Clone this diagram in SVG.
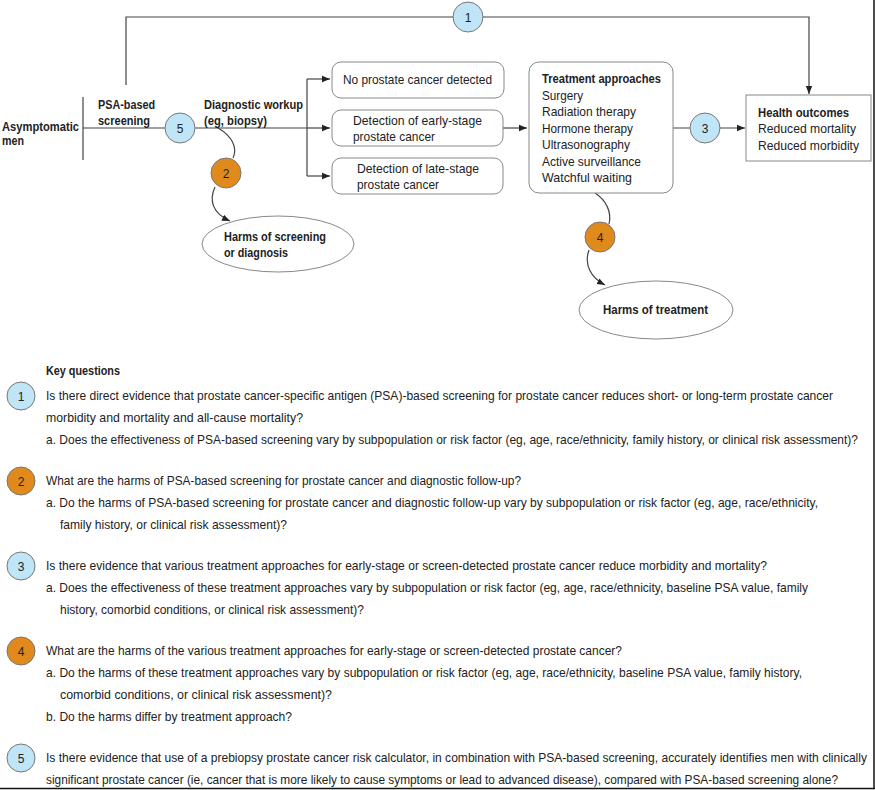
<svg xmlns="http://www.w3.org/2000/svg" width="875" height="790" viewBox="0 0 875 790">
<defs>
<marker id="ah" viewBox="0 0 10 10" refX="10" refY="5" markerWidth="8" markerHeight="8" markerUnits="userSpaceOnUse" orient="auto"><path d="M0,1 L10,5 L0,9 Z" fill="#222"/></marker>
<style>
text{font-family:"Liberation Sans",Arial,sans-serif;font-size:12.8px;fill:#222}
.b{font-weight:bold}
.ln{fill:none;stroke:#444;stroke-width:1.2}
.box{fill:#fff;stroke:#888;stroke-width:1}
.blue{fill:#bfe5f7;stroke:#777;stroke-width:1}
.org{fill:#e08a1e;stroke:#777;stroke-width:1}
.n{text-anchor:middle;font-size:12px}
</style>
</defs>
<rect x="0" y="0" width="875" height="790" fill="#fff"/>
<line x1="874" y1="0" x2="874" y2="789" stroke="#111" stroke-width="1.5"/>
<line x1="0" y1="788.5" x2="875" y2="788.5" stroke="#111" stroke-width="1.5"/>

<g id="connectors">
<path class="ln" d="M126,85 V17 H809 V94" marker-end="url(#ah)"/>
<line class="ln" x1="83" y1="97" x2="83" y2="160"/>
<path class="ln" d="M83,128 H307"/>
<path class="ln" d="M307,79 V176"/>
<path class="ln" d="M307,79 H330" marker-end="url(#ah)"/>
<path class="ln" d="M307,128 H330" marker-end="url(#ah)"/>
<path class="ln" d="M307,176 H330" marker-end="url(#ah)"/>
<path class="ln" d="M503,128 H527" marker-end="url(#ah)"/>
<path class="ln" d="M673,128 H745" marker-end="url(#ah)"/>
<path class="ln" d="M218,128 C232,136 238,148 233,158"/>
<path class="ln" d="M215,187 C209,200 212,213 230,221" marker-end="url(#ah)"/>
<path class="ln" d="M595,193 C606,200 612,212 609,224"/>
<path class="ln" d="M589,250 C584,264 590,277 605,285" marker-end="url(#ah)"/>
</g>

<g id="kq1-circle"><circle class="blue" cx="468" cy="17" r="15"/><text class="n" x="468" y="21.5">1</text></g>
<g id="kq5-circle"><circle class="blue" cx="180" cy="128" r="15"/><text class="n" x="180" y="132.5">5</text></g>
<g id="kq2-circle"><circle class="org" cx="226" cy="173" r="15"/><text class="n" x="226" y="177.5">2</text></g>
<g id="kq3-circle"><circle class="blue" cx="705" cy="128" r="15"/><text class="n" x="705" y="132.5">3</text></g>
<g id="kq4-circle"><circle class="org" cx="600" cy="237" r="15"/><text class="n" x="600" y="241.5">4</text></g>

<g id="asymptomatic">
<text class="b" x="2" y="131" textLength="77" lengthAdjust="spacingAndGlyphs">Asymptomatic</text>
<text class="b" x="2" y="145" textLength="22" lengthAdjust="spacingAndGlyphs">men</text>
</g>
<g id="psa-screening">
<text class="b" x="98" y="109" textLength="57" lengthAdjust="spacingAndGlyphs">PSA-based</text>
<text class="b" x="98" y="125" textLength="52" lengthAdjust="spacingAndGlyphs">screening</text>
</g>
<g id="diagnostic">
<text class="b" x="204" y="109" textLength="99" lengthAdjust="spacingAndGlyphs">Diagnostic workup</text>
<text class="b" x="204" y="125" textLength="63" lengthAdjust="spacingAndGlyphs">(eg, biopsy)</text>
</g>
<g id="no-cancer">
<rect class="box" x="332" y="62" width="172" height="36" rx="9"/>
<text x="343" y="84" textLength="149" lengthAdjust="spacingAndGlyphs">No prostate cancer detected</text>
</g>
<g id="early-stage">
<rect class="box" x="332" y="110" width="171" height="36" rx="9"/>
<text x="353" y="125" textLength="129" lengthAdjust="spacingAndGlyphs">Detection of early-stage</text>
<text x="353" y="141" textLength="82" lengthAdjust="spacingAndGlyphs">prostate cancer</text>
</g>
<g id="late-stage">
<rect class="box" x="332" y="158" width="171" height="36" rx="9"/>
<text x="357" y="173" textLength="122" lengthAdjust="spacingAndGlyphs">Detection of late-stage</text>
<text x="357" y="189" textLength="82" lengthAdjust="spacingAndGlyphs">prostate cancer</text>
</g>
<g id="treatment">
<rect class="box" x="529" y="62" width="144" height="131" rx="10"/>
<text class="b" x="542" y="83" textLength="119" lengthAdjust="spacingAndGlyphs">Treatment approaches</text>
<text x="542" y="100" textLength="41" lengthAdjust="spacingAndGlyphs">Surgery</text>
<text x="542" y="116" textLength="94" lengthAdjust="spacingAndGlyphs">Radiation therapy</text>
<text x="542" y="133" textLength="91" lengthAdjust="spacingAndGlyphs">Hormone therapy</text>
<text x="542" y="149" textLength="88" lengthAdjust="spacingAndGlyphs">Ultrasonography</text>
<text x="542" y="166" textLength="99" lengthAdjust="spacingAndGlyphs">Active surveillance</text>
<text x="542" y="182" textLength="90" lengthAdjust="spacingAndGlyphs">Watchful waiting</text>
</g>
<g id="health-outcomes">
<rect class="box" x="746" y="95" width="125" height="66"/>
<text class="b" x="758" y="117" textLength="91" lengthAdjust="spacingAndGlyphs">Health outcomes</text>
<text x="758" y="133" textLength="98" lengthAdjust="spacingAndGlyphs">Reduced mortality</text>
<text x="758" y="150" textLength="101" lengthAdjust="spacingAndGlyphs">Reduced morbidity</text>
</g>
<g id="harms-screening">
<ellipse class="box" cx="278" cy="244" rx="76" ry="28"/>
<text class="b" x="224" y="241" textLength="102" lengthAdjust="spacingAndGlyphs">Harms of screening</text>
<text class="b" x="224" y="257" textLength="64" lengthAdjust="spacingAndGlyphs">or diagnosis</text>
</g>
<g id="harms-treatment">
<ellipse class="box" cx="656" cy="310" rx="77" ry="29"/>
<text class="b" x="603" y="314" textLength="105" lengthAdjust="spacingAndGlyphs">Harms of treatment</text>
</g>

<g id="key-questions">
<text class="b" x="46" y="375" textLength="74" lengthAdjust="spacingAndGlyphs">Key questions</text>
<circle class="blue" cx="21" cy="396" r="14"/><text class="n" x="21" y="400.5">1</text>
<text x="46" y="400" textLength="787" lengthAdjust="spacingAndGlyphs">Is there direct evidence that prostate cancer-specific antigen (PSA)-based screening for prostate cancer reduces short- or long-term prostate cancer</text>
<text x="46" y="422" textLength="257" lengthAdjust="spacingAndGlyphs">morbidity and mortality and all-cause mortality?</text>
<text x="46" y="444" textLength="812" lengthAdjust="spacingAndGlyphs">a. Does the effectiveness of PSA-based screening vary by subpopulation or risk factor (eg, age, race/ethnicity, family history, or clinical risk assessment)?</text>

<circle class="org" cx="21" cy="481" r="14"/><text class="n" x="21" y="485.5">2</text>
<text x="46" y="485" textLength="475" lengthAdjust="spacingAndGlyphs">What are the harms of PSA-based screening for prostate cancer and diagnostic follow-up?</text>
<text x="46" y="507" textLength="772" lengthAdjust="spacingAndGlyphs">a. Do the harms of PSA-based screening for prostate cancer and diagnostic follow-up vary by subpopulation or risk factor (eg, age, race/ethnicity,</text>
<text x="60" y="529" textLength="227" lengthAdjust="spacingAndGlyphs">family history, or clinical risk assessment)?</text>

<circle class="blue" cx="21" cy="566" r="14"/><text class="n" x="21" y="570.5">3</text>
<text x="46" y="570" textLength="721" lengthAdjust="spacingAndGlyphs">Is there evidence that various treatment approaches for early-stage or screen-detected prostate cancer reduce morbidity and mortality?</text>
<text x="46" y="592" textLength="762" lengthAdjust="spacingAndGlyphs">a. Does the effectiveness of these treatment approaches vary by subpopulation or risk factor (eg, age, race/ethnicity, baseline PSA value, family</text>
<text x="60" y="614" textLength="304" lengthAdjust="spacingAndGlyphs">history, comorbid conditions, or clinical risk assessment)?</text>

<circle class="org" cx="21" cy="651" r="14"/><text class="n" x="21" y="655.5">4</text>
<text x="46" y="655" textLength="576" lengthAdjust="spacingAndGlyphs">What are the harms of the various treatment approaches for early-stage or screen-detected prostate cancer?</text>
<text x="46" y="677" textLength="756" lengthAdjust="spacingAndGlyphs">a. Do the harms of these treatment approaches vary by subpopulation or risk factor (eg, age, race/ethnicity, baseline PSA value, family history,</text>
<text x="60" y="699" textLength="272" lengthAdjust="spacingAndGlyphs">comorbid conditions, or clinical risk assessment)?</text>
<text x="46" y="721" textLength="246" lengthAdjust="spacingAndGlyphs">b. Do the harms differ by treatment approach?</text>

<circle class="blue" cx="21" cy="758" r="14"/><text class="n" x="21" y="762.5">5</text>
<text x="46" y="762" textLength="821" lengthAdjust="spacingAndGlyphs">Is there evidence that use of a prebiopsy prostate cancer risk calculator, in combination with PSA-based screening, accurately identifies men with clinically</text>
<text x="46" y="784" textLength="792" lengthAdjust="spacingAndGlyphs">significant prostate cancer (ie, cancer that is more likely to cause symptoms or lead to advanced disease), compared with PSA-based screening alone?</text>
</g>
</svg>
